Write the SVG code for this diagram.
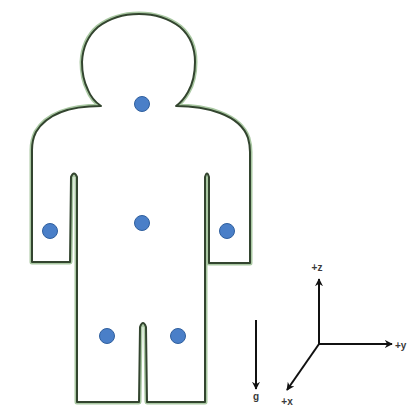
<svg xmlns="http://www.w3.org/2000/svg" width="407" height="410" viewBox="0 0 407 410">
  <style>
    .halo { fill: none; stroke: #a9c8a2; stroke-width: 5; stroke-linejoin: round; }
    .edge { fill: #ffffff; stroke: #33452f; stroke-width: 2; stroke-linejoin: round; }
    .mass { fill: #4a7fc8; stroke: #2f5f9e; stroke-width: 1; }
    .axis { stroke: #111111; stroke-width: 2; fill: none; marker-end: url(#tip); }
    .lbl { font-family: "Liberation Sans", Arial, sans-serif; font-size: 10px; font-weight: bold; fill: #3a3a3a; }
  </style>
  <defs>
    <marker id="tip" viewBox="0 0 10 10" refX="9" refY="5" markerWidth="4" markerHeight="4" orient="auto" markerUnits="strokeWidth">
      <path d="M0,0 L10,5 L0,10 L3,5 Z" fill="#111111"/>
    </marker>
    <path id="outline" d="M 101 106 Q 92 100 88 90 Q 82 78 82 62 Q 83 40 98 27 Q 115 14 139 14 Q 163 14 180 27 Q 195 40 195 62 Q 195 80 188 92 Q 183 101 176 106 C 205 106 240 114 248 138 Q 250 145 250 152 L 250 263 L 209 263 L 209 177 Q 207 170 205 177 L 205 402 L 147 402 L 146 327 Q 143 319 140 327 L 139 402 L 77 402 L 77 177 Q 74 170 71 177 L 70 262 L 32 262 L 32 150 Q 32 140 36 132 C 48 112 75 106 101 106 Z"/>
  </defs>

  <rect width="407" height="410" fill="#ffffff"/>

  <!-- body silhouette -->
  <g id="body">
    <use href="#outline" class="halo"/>
    <use href="#outline" class="edge"/>
  </g>

  <!-- point masses -->
  <g id="mass-head"><circle class="mass" cx="142" cy="104" r="7.5"/></g>
  <g id="mass-torso"><circle class="mass" cx="142" cy="223" r="7.5"/></g>
  <g id="mass-left-arm"><circle class="mass" cx="50" cy="231" r="7.5"/></g>
  <g id="mass-right-arm"><circle class="mass" cx="227" cy="231" r="7.5"/></g>
  <g id="mass-left-leg"><circle class="mass" cx="107" cy="336" r="7.5"/></g>
  <g id="mass-right-leg"><circle class="mass" cx="178" cy="336" r="7.5"/></g>

  <!-- gravity and coordinate axes -->
  <g id="connectors">
    <line class="axis" x1="256" y1="320" x2="256" y2="389"/>
    <line class="axis" x1="319" y1="344" x2="319" y2="279"/>
    <line class="axis" x1="319" y1="344" x2="392" y2="344"/>
    <line class="axis" x1="319" y1="344" x2="287" y2="390"/>
  </g>

  <g id="labels">
    <text class="lbl" x="256" y="400" text-anchor="middle">g</text>
    <text class="lbl" x="317" y="271" text-anchor="middle">+z</text>
    <text class="lbl" x="395" y="349">+y</text>
    <text class="lbl" x="287" y="405" text-anchor="middle">+x</text>
  </g>
</svg>
